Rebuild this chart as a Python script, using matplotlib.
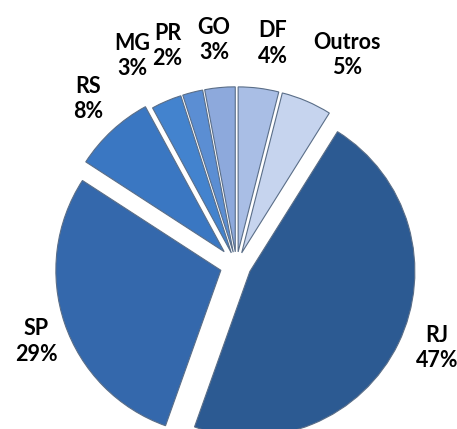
import matplotlib.pyplot as plt
import numpy as np

labels = ["DF", "Outros", "RJ", "SP", "RS", "MG", "PR", "GO"]
values = [4, 5, 47, 29, 8, 3, 2, 3]
colors = ["#A9BEE5", "#C6D4EE", "#2C5A92", "#3468AC", "#3A77C2",
          "#4383CE", "#5B8ED3", "#8DA9DC"]
explode = [0.08, 0.08, 0.09, 0.1, 0.11, 0.08, 0.08, 0.08]

fig = plt.figure(figsize=(4.57, 4.29), dpi=100)
ax = fig.add_axes([0, 0, 1, 1])

wedges, _ = ax.pie(values, colors=colors, explode=explode, startangle=90,
                   counterclock=False, radius=1.0,
                   wedgeprops=dict(edgecolor="#5a6e88", linewidth=0.8))

# labels outside each wedge, along its middle angle (small angle nudges)
nudge = [-2.3, -4.9, 3.5, 2.4, -1.1, 3.5, 3.4, 0.4]
dist = [1.28, 1.36, 1.225, 1.2, 1.24, 1.335, 1.31, 1.29]
for w, lab, v, n, d in zip(wedges, labels, values, nudge, dist):
    ang = np.deg2rad((w.theta1 + w.theta2) / 2 + n)
    cx, cy = w.center
    ax.text(cx + d * np.cos(ang), cy + d * np.sin(ang), f"{lab}\n{v}%",
            ha="center", va="center", fontsize=15.5, fontweight="bold",
            family="Lato", linespacing=1.25, color="black")

ax.set_xlim(-236.5 / 165, 220.5 / 165)
ax.set_ylim(-164 / 165, 265 / 165)
ax.set_aspect("equal")
ax.axis("off")

fig.savefig("out.png", dpi=100)
